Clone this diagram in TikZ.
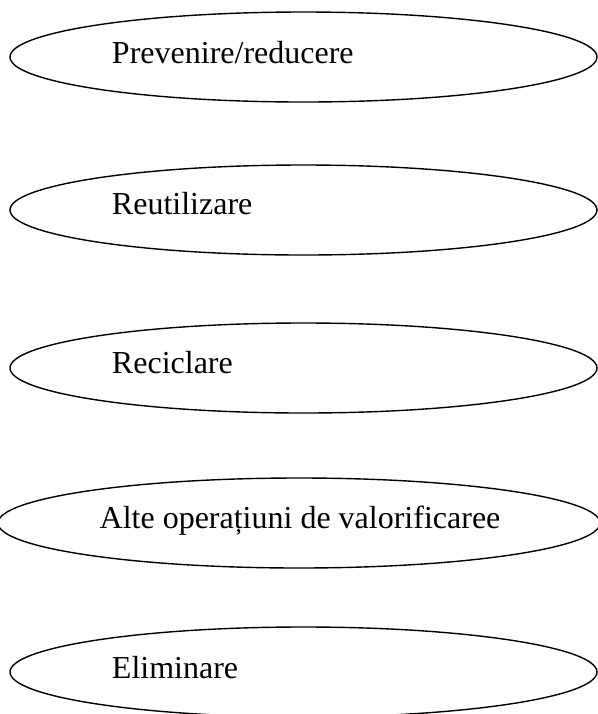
\documentclass[tikz,border=0pt]{standalone}
\usepackage{fontspec}
\setmainfont{Liberation Serif}
\usetikzlibrary{shapes.geometric}
\tikzset{
  oval/.style={draw=black, line width=0.7pt, ellipse, inner sep=0pt, outer sep=0pt,
    minimum width=293.5pt, minimum height=45pt},
  wideoval/.style={oval, minimum width=301pt},
  label text/.style={inner sep=0pt, outer sep=0pt, font=\fontsize{16}{19}\selectfont, anchor=base west},
  mid text/.style={label text, anchor=base}
}
\begin{document}
\begin{tikzpicture}[x=0.5pt,y=-0.5pt]
\useasboundingbox (0,0) rectangle (598,714);
\clip (0,0) rectangle (598,714);
\node[oval] (e1) at (303.5,57) {};
\node[label text] (t1) at (112,63) {Prevenire/reducere};
\node[oval] (e2) at (303.5,210) {};
\node[label text] (t2) at (112,214) {Reutilizare};
\node[oval] (e3) at (303.5,368) {};
\node[label text] (t3) at (112,373) {Reciclare};
\node[wideoval] (e4) at (299,523) {};
\node[mid text] (t4) at (300,528) {Alte operațiuni de valorificaree};
\node[oval] (e5) at (303.5,672) {};
\node[label text] (t5) at (112,678) {Eliminare};
\end{tikzpicture}
\end{document}
